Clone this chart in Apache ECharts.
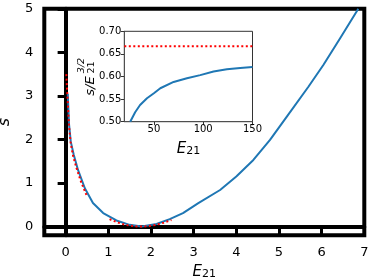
<!DOCTYPE html>
<html><head><meta charset="utf-8">
<script src="https://cdn.jsdelivr.net/npm/echarts@6/dist/echarts.min.js"></script>
<style>html,body{margin:0;padding:0;background:#fff}#c{width:373px;height:280px}</style>
</head><body><div id="c"></div>
<script>
// Main curve s(E21)
const mainE = [0.05, 0.08, 0.12, 0.19, 0.29, 0.45, 0.64, 0.88, 1.19, 1.5, 1.78, 2.13, 2.44, 2.75, 3.11, 3.62, 4.0, 4.4, 4.79, 5.18, 5.69, 6.04, 6.43, 6.86];
const mainS = [3.05, 2.35, 1.95, 1.65, 1.3, 0.88, 0.54, 0.31, 0.14, 0.04, 0.0, 0.06, 0.17, 0.31, 0.54, 0.84, 1.15, 1.53, 1.99, 2.52, 3.21, 3.71, 4.32, 5.0];
// Red dotted approximations
const redE1 = [0.016, 0.03, 0.05, 0.08, 0.12, 0.18, 0.26, 0.36, 0.49];
const redS1 = [3.5, 3.2, 2.85, 2.3, 1.9, 1.6, 1.33, 1.03, 0.72];
const redE2 = [1.03, 1.2, 1.4, 1.6, 1.75, 1.9, 2.1, 2.3, 2.48];
const redS2 = [0.17, 0.10, 0.04, 0.008, 0.0, 0.007, 0.035, 0.09, 0.15];
// Inset s/E^{3/2}
const insetE = [26, 31, 36, 43, 50, 56.5, 70, 83.5, 97, 110.5, 124, 137.5, 150];
const insetR = [0.5, 0.521, 0.537, 0.552, 0.563, 0.574, 0.588, 0.596, 0.603, 0.611, 0.616, 0.619, 0.621];
const insetRedE = [20, 150];
const insetRedR = [0.6667, 0.6667];
// Ticks
const mainXTicks = [0, 1, 2, 3, 4, 5, 6, 7];
const mainYTicks = [0, 1, 2, 3, 4, 5];
const insetXTicks = [50, 100, 150];

const zip = (a, b) => a.map((v, i) => [v, b[i]]);
const FONT = 'DejaVu Sans';
const chart = echarts.init(document.getElementById('c'), null, {renderer: 'canvas'});
chart.setOption({
  animation: false,
  backgroundColor: '#fff',
  textStyle: {fontFamily: FONT},
  grid: [
    {left: 44.3, top: 8.8, right: 8.7, bottom: 44.7, show: true, borderWidth: 4, borderColor: '#000', backgroundColor: 'transparent', outerBoundsMode: 'none', containLabel: false},
    {left: 124.3, top: 31.3, right: 120.5, bottom: 158.3, show: true, borderWidth: 1, borderColor: '#333', backgroundColor: '#fff', z: 5, outerBoundsMode: 'none', containLabel: false}
  ],
  xAxis: [
    {gridIndex: 0, type: 'value', min: -0.5, max: 7,
     name: '{e|E}{s|21}', nameLocation: 'middle', nameGap: 25,
     nameTextStyle: {rich: {e: {fontSize: 15, fontStyle: 'italic', fontFamily: FONT, color: '#000', verticalAlign: 'bottom'},
                            s: {fontSize: 11, fontFamily: FONT, color: '#000', padding: [8, 0, 0, 0], verticalAlign: 'bottom'}}},
     axisLine: {show: true, lineStyle: {color: '#000', width: 4}},
     axisTick: {show: true, customValues: mainXTicks, length: 8, lineStyle: {color: '#000', width: 3}},
     axisLabel: {customValues: mainXTicks, fontSize: 13, color: '#000', margin: 11, fontFamily: FONT},
     splitLine: {show: false}},
    {gridIndex: 1, type: 'value', min: 20, max: 150,
     name: '{e|E}{s|21}', nameLocation: 'middle', nameGap: 16,
     nameTextStyle: {rich: {e: {fontSize: 15, fontStyle: 'italic', fontFamily: FONT, color: '#000', verticalAlign: 'bottom'},
                            s: {fontSize: 11, fontFamily: FONT, color: '#000', padding: [8, 0, 0, 0], verticalAlign: 'bottom'}}},
     axisLine: {show: true, lineStyle: {color: '#333', width: 1}},
     axisTick: {show: true, customValues: insetXTicks, length: 3.5, lineStyle: {color: '#333', width: 1}},
     axisLabel: {customValues: insetXTicks, fontSize: 10, color: '#000', margin: 3, fontFamily: FONT},
     splitLine: {show: false}}
  ],
  yAxis: [
    {gridIndex: 0, type: 'value', min: -0.2, max: 5,
     name: 's', nameLocation: 'middle', nameGap: 31, nameRotate: 90,
     nameTextStyle: {fontSize: 16, fontStyle: 'italic', color: '#000', fontFamily: FONT},
     axisLine: {show: true, lineStyle: {color: '#000', width: 4}},
     axisTick: {show: true, customValues: mainYTicks, length: 8, lineStyle: {color: '#000', width: 3}},
     axisLabel: {customValues: mainYTicks, fontSize: 13, color: '#000', margin: 11, fontFamily: FONT},
     splitLine: {show: false}},
    {gridIndex: 1, type: 'value', min: 0.5, max: 0.7, interval: 0.05,
     axisLine: {show: true, lineStyle: {color: '#333', width: 1}},
     axisTick: {show: true, length: 3.5, lineStyle: {color: '#333', width: 1}},
     axisLabel: {fontSize: 10, color: '#000', margin: 3, fontFamily: FONT, formatter: v => v.toFixed(2)},
     splitLine: {show: false}}
  ],
  graphic: [
    {type: 'text', x: 91, y: 86, rotation: Math.PI / 2, z: 100,
     style: {text: 's/E', fontSize: 13, fontStyle: 'italic', fontFamily: FONT, fill: '#000', align: 'center', verticalAlign: 'middle'}},
    {type: 'text', x: 92, y: 67.5, rotation: Math.PI / 2, z: 100,
     style: {text: '21', fontSize: 9.5, fontFamily: FONT, fill: '#000', align: 'center', verticalAlign: 'middle'}},
    {type: 'text', x: 82, y: 65.5, rotation: Math.PI / 2, z: 100,
     style: {text: '3/2', fontSize: 9.5, fontStyle: 'italic', fontFamily: FONT, fill: '#000', align: 'center', verticalAlign: 'middle'}}
  ],
  series: [
    {type: 'line', xAxisIndex: 0, yAxisIndex: 0, data: zip(mainE, mainS), showSymbol: false, symbol: 'none',
     lineStyle: {color: '#1f77b4', width: 2}, z: 2, clip: true},
    {type: 'line', xAxisIndex: 0, yAxisIndex: 0, data: zip(redE1, redS1), showSymbol: false, symbol: 'none',
     lineStyle: {color: '#ff0000', width: 2, type: [2, 2.5]}, z: 3, clip: true},
    {type: 'line', xAxisIndex: 0, yAxisIndex: 0, data: zip(redE2, redS2), showSymbol: false, symbol: 'none',
     lineStyle: {color: '#ff0000', width: 2, type: [2, 2.5]}, z: 3, clip: true},
    {type: 'line', xAxisIndex: 1, yAxisIndex: 1, data: zip(insetE, insetR), showSymbol: false, symbol: 'none',
     lineStyle: {color: '#1f77b4', width: 2}, z: 10, clip: true},
    {type: 'line', xAxisIndex: 1, yAxisIndex: 1, data: zip(insetRedE, insetRedR), showSymbol: false, symbol: 'none',
     lineStyle: {color: '#ff0000', width: 2, type: [2, 2.5]}, z: 10, clip: true}
  ]
});
</script></body></html>
